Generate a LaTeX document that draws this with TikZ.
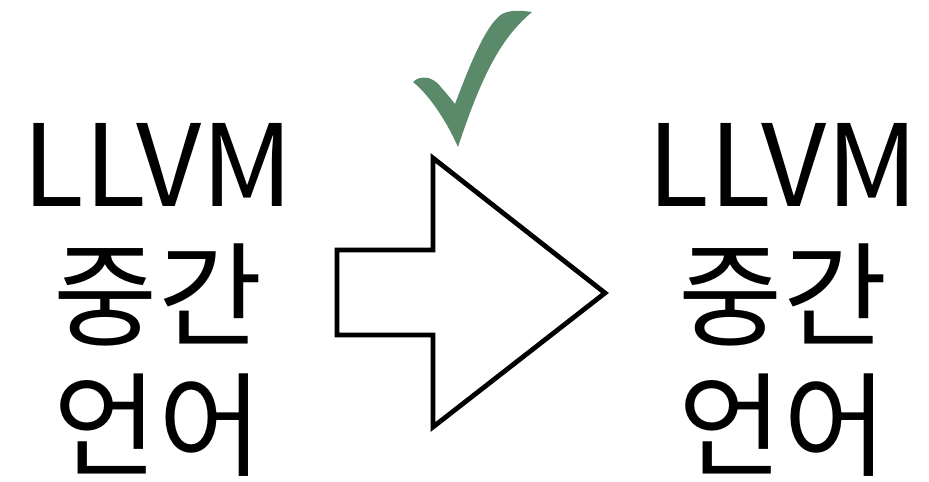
\documentclass[tikz,border=0pt]{standalone}
\usepackage{fontspec}
\setmainfont{Noto Sans CJK KR}
\usetikzlibrary{positioning}
\definecolor{checkgreen}{HTML}{5A8A6A}

\begin{document}
\begin{tikzpicture}[x=0.75pt,y=-0.75pt,
 label/.style={align=center,inner sep=0pt,font=\fontsize{85}{98}\selectfont},
 blockarrow/.style={draw=black,line width=3.6pt,fill=white,line join=miter}]
\useasboundingbox (0,0) rectangle (929,482);
\node[label] (source) at (158,300) {LLVM\\중간\\언어};
\node[label] (target) at (783,300) {LLVM\\중간\\언어};
% transformation arrow
\draw[blockarrow] (337,250) -- (433,250) -- (433,158) -- (605,293) -- (433,427)
 -- (433,335) -- (337,335) -- cycle;
% check mark
\fill[checkgreen] (458,147) .. controls (445,118) and (428,94) .. (413,82)
 .. controls (420,75) and (432,76) .. (440,86)
 .. controls (446,93) and (452,100) .. (455,104)
 .. controls (468,70) and (485,25) .. (502,14)
 .. controls (512,9) and (524,11) .. (532,12)
 .. controls (505,35) and (485,65) .. (458,147) -- cycle;
\end{tikzpicture}
\end{document}
